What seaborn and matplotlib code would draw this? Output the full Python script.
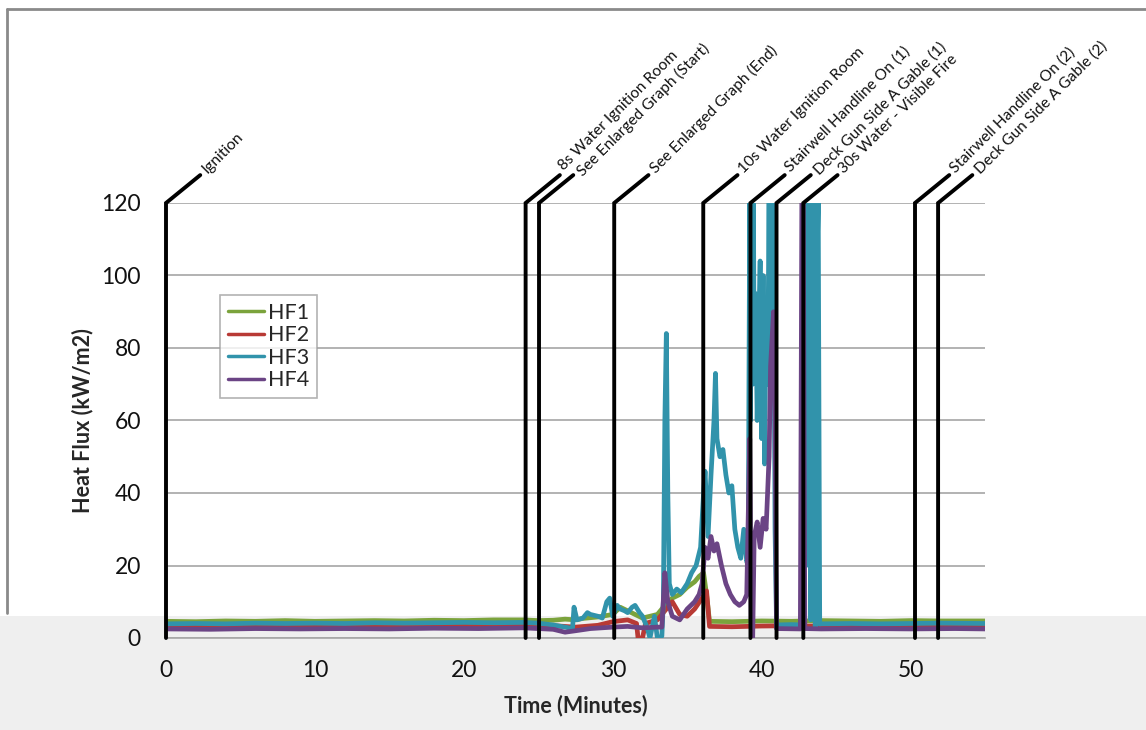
import numpy as np
import pandas as pd
import matplotlib
matplotlib.use("Agg")
import matplotlib.pyplot as plt
from matplotlib.patches import Rectangle
from matplotlib.lines import Line2D
from matplotlib.transforms import offset_copy
import seaborn as sns

# ---------------- data ----------------
hf1_t = [0, 2, 4, 6, 8, 10, 12, 14, 16, 18, 20, 22, 24, 25, 26, 26.8, 27.5, 28, 29, 30, 30.5, 31, 31.5,
         32, 32.5, 33, 33.5, 34, 34.5, 35, 35.5, 35.8, 36.1, 36.3, 36.5, 38, 40, 42, 44, 46, 48, 50, 52, 55]
hf1_v = [4.6, 4.5, 4.7, 4.6, 4.8, 4.6, 4.7, 4.8, 4.7, 4.9, 4.8, 5.0, 5.0, 4.8, 4.9, 5.2, 5.0, 5.4, 5.8, 6.5, 8.5,
         7.5, 6.5, 5.5, 6.0, 6.5, 9.0, 11.0, 12.0, 14.0, 15.5, 17.0, 18.0, 12.0, 4.6, 4.5, 4.7, 4.6, 4.8, 4.7,
         4.6, 4.8, 4.7, 4.7]

hf2_t = [0, 3, 6, 9, 12, 15, 18, 21, 24, 26, 27.5, 29, 30, 31, 31.6, 31.7, 32.0, 32.2, 33, 33.6, 34.0,
         34.5, 35.0, 35.5, 36.0, 36.3, 36.5, 38, 40, 42.8, 43, 46, 50, 55]
hf2_v = [3.3, 3.2, 3.4, 3.3, 3.5, 3.4, 3.6, 3.5, 3.6, 3.4, 3.0, 3.5, 4.5, 5.0, 4.0, 0.0, 0.0, 4.0, 5.0, 8.0,
         10.0, 6.5, 6.0, 8.0, 11.0, 13.0, 3.2, 3.1, 3.3, 3.4, 3.3, 3.4, 3.3, 3.4]

hf3_t = [0, 2, 4, 6, 8, 10, 12, 14, 16, 18, 20, 22, 24, 25, 26, 26.8, 27.3, 27.4, 27.6, 28, 28.3, 28.5, 29,
         29.3, 29.6, 29.8, 30, 30.3, 30.5, 30.8, 31, 31.3, 31.5, 31.8, 32, 32.3, 32.5, 32.8, 33, 33.3, 33.4,
         33.5, 33.6, 33.7, 33.8, 34, 34.3, 34.6, 35, 35.3, 35.6, 35.9, 36.1, 36.2, 36.4, 36.6, 36.8, 36.9,
         37.0, 37.2, 37.4, 37.6, 37.8, 38.0, 38.2, 38.4, 38.6, 38.8, 39.0, 39.1, 39.2, 39.25, 39.3, 39.4,
         39.45, 39.5, 39.6, 39.7, 39.8, 39.9, 40.0, 40.1, 40.2, 40.3, 40.4, 40.5, 40.55, 40.6, 40.7, 40.75,
         40.8, 40.9, 41.0, 42.0, 42.8, 42.9, 43.0, 43.1, 43.2, 43.3, 43.4, 43.5, 43.6, 43.7, 43.8, 43.9,
         44, 46, 48, 50, 52, 55]
hf3_v = [3.9, 4.0, 3.9, 4.1, 4.0, 4.1, 4.0, 4.2, 4.1, 4.2, 4.3, 4.2, 4.3, 4.1, 3.6, 3.0, 2.6, 8.5, 5.0, 5.5,
         7.0, 6.5, 6.0, 5.5, 10.0, 11.0, 6.0, 9.0, 8.0, 7.5, 7.0, 8.5, 9.0, 7.0, 6.0, 3.0, 0.0, 6.0, 0.0,
         0.5, 10.0, 60.0, 84.0, 40.0, 15.0, 12.0, 13.5, 12.5, 15.0, 18.0, 20.0, 25.0, 40.0, 46.0, 28.0,
         45.0, 60.0, 73.0, 55.0, 50.0, 52.0, 45.0, 40.0, 42.0, 30.0, 25.0, 22.0, 30.0, 21.0, 22.0, 120.0,
         60.0, 120.0, 70.0, 120.0, 71.0, 95.0, 60.0, 85.0, 104.0, 55.0, 100.0, 48.0, 92.0, 70.0, 120.0,
         75.0, 120.0, 90.0, 120.0, 120.0, 30.0, 3.6, 3.7, 3.6, 120.0, 20.0, 110.0, 120.0, 5.0, 80.0, 120.0,
         3.0, 100.0, 120.0, 3.8, 3.9, 4.0, 3.9, 4.0, 4.1, 4.0]

hf4_t = [0, 3, 6, 9, 12, 15, 18, 21, 24, 26, 26.8, 27.5, 28.5, 30, 31, 32, 33, 33.3, 33.5, 33.7, 34, 34.5,
         35, 35.5, 35.8, 36.0, 36.2, 36.4, 36.6, 36.8, 37.0, 37.3, 37.6, 37.9, 38.2, 38.5, 38.8, 39.0, 39.2,
         39.3, 39.4, 39.5, 39.7, 39.9, 40.1, 40.3, 40.5, 40.6, 40.8, 40.9, 41.0, 42.6, 42.7, 42.8, 42.9, 44,
         47, 50, 53, 55]
hf4_v = [2.5, 2.4, 2.6, 2.5, 2.6, 2.5, 2.7, 2.6, 2.8, 2.4, 1.6, 2.0, 2.6, 3.0, 3.2, 2.8, 3.0, 3.0, 18.0, 10.0,
         6.0, 5.0, 8.0, 10.0, 12.0, 15.0, 25.0, 22.0, 28.0, 24.0, 26.0, 20.0, 15.0, 12.0, 10.0, 9.0, 10.0,
         12.0, 55.0, 4.0, 0.0, 28.0, 32.0, 25.0, 33.0, 30.0, 50.0, 75.0, 90.0, 60.0, 2.6, 2.5, 120.0, 120.0,
         2.6, 2.5, 2.6, 2.5, 2.6, 2.5]

series_names = ["HF1", "HF2", "HF3", "HF4"]
series_colors = ["#7ba33c", "#b83a35", "#3193ab", "#6b4485"]

event_times = [0, 24.15, 25.05, 30.1, 36.08, 39.25, 41.0, 42.8, 50.3, 51.85]
event_labels = ["Ignition", "8s Water Ignition Room", "See Enlarged Graph (Start)",
                "See Enlarged Graph (End)", "10s Water Ignition Room", "Stairwell Handline On (1)",
                "Deck Gun Side A Gable (1)", "30s Water - Visible Fire", "Stairwell Handline On (2)",
                "Deck Gun Side A Gable (2)"]

y_ticks = [0, 20, 40, 60, 80, 100, 120]
x_ticks = [0, 10, 20, 30, 40, 50]

# layout: perpendicular nudge (pixels, + = down-right) of each event label
label_nudge = [0, -4.5, 3.5, 0, 0, -2, 2, 0, -1, 1]

# ---------------- build frame ----------------
frames = []
for name, t, v in zip(series_names, [hf1_t, hf2_t, hf3_t, hf4_t], [hf1_v, hf2_v, hf3_v, hf4_v]):
    frames.append(pd.DataFrame({"Time": t, "Flux": v, "Sensor": name}))
df = pd.concat(frames, ignore_index=True)

sns.set_style("white")
plt.rcParams["font.family"] = ["Lato", "DejaVu Sans"]

fig = plt.figure(figsize=(11.46, 7.30), dpi=100, facecolor="white")
# grey band at bottom and frame border
fig.patches.append(Rectangle((0, 0), 1, (730 - 616) / 730, transform=fig.transFigure,
                             facecolor="#efefef", edgecolor="none", zorder=-10))
fig.lines.append(Line2D([7 / 1146, 7 / 1146], [0.16, 1 - 9 / 730], transform=fig.transFigure,
                        color="#8a8a8a", lw=2, zorder=-5))
fig.lines.append(Line2D([7 / 1146, 1], [1 - 9 / 730, 1 - 9 / 730], transform=fig.transFigure,
                        color="#8a8a8a", lw=2, zorder=-5))

ax = fig.add_axes([166 / 1146, 1 - 638 / 730, (985 - 166) / 1146, (638 - 203) / 730])
ax.set_zorder(1)
ax.patch.set_alpha(0)

for name, col in zip(series_names, series_colors):
    sub = df[df["Sensor"] == name]
    sns.lineplot(data=sub, x="Time", y="Flux", color=col, estimator=None, sort=False,
                 linewidth=3.4, ax=ax, zorder=3, label=name)

ax.set_xlim(0, 55)
ax.set_ylim(0, 120)
ax.set_yticks(y_ticks)
ax.set_xticks(x_ticks)
ax.yaxis.grid(True, color="#a6a6a6", lw=1.2)
ax.set_axisbelow(True)
for s in ["left", "right", "top"]:
    ax.spines[s].set_visible(False)
ax.spines["bottom"].set_color("#a6a6a6")
ax.spines["bottom"].set_linewidth(1.2)
ax.tick_params(axis="y", length=0, pad=18, labelsize=16.5, labelcolor="#111111")
ax.tick_params(axis="x", length=6, width=1.2, color="#a6a6a6", direction="out", pad=10,
               labelsize=16.5, labelcolor="#111111")
ax.set_xlabel("Time (Minutes)", fontsize=15.5, fontweight="bold", labelpad=10)
ax.set_ylabel("Heat Flux (kW/m2)", fontsize=15.5, fontweight="bold", labelpad=6)

# event markers
dx, dy = 2.3, 7.7
for t, lab, nud in zip(event_times, event_labels, label_nudge):
    ax.plot([t, t, t + dx], [0, 120, 120 + dy], color="black", lw=2.8, clip_on=False,
            zorder=4, solid_joinstyle="miter")
    ox = 4.0 + nud * 0.7071
    oy = 4.0 - nud * 0.7071
    tr = offset_copy(ax.transData, fig=fig, x=ox, y=oy, units="dots")
    ax.text(t + dx, 120 + dy, lab, transform=tr, rotation=45, rotation_mode="anchor",
            ha="left", va="center", fontsize=11.2, color="#111111", clip_on=False)

leg = ax.legend(loc="upper left", bbox_to_anchor=((220 - 166) / 819, (638 - 295) / 435),
                frameon=True, fancybox=False, fontsize=15.5, handlelength=1.7, handletextpad=0.2,
                borderpad=0.35, labelspacing=0.12, borderaxespad=0)
leg.get_frame().set_edgecolor("#a0a0a0")
leg.get_frame().set_linewidth(1.2)
for h in leg.get_lines():
    h.set_linewidth(2.5)

fig.savefig("out.png", dpi=100, facecolor="white")
